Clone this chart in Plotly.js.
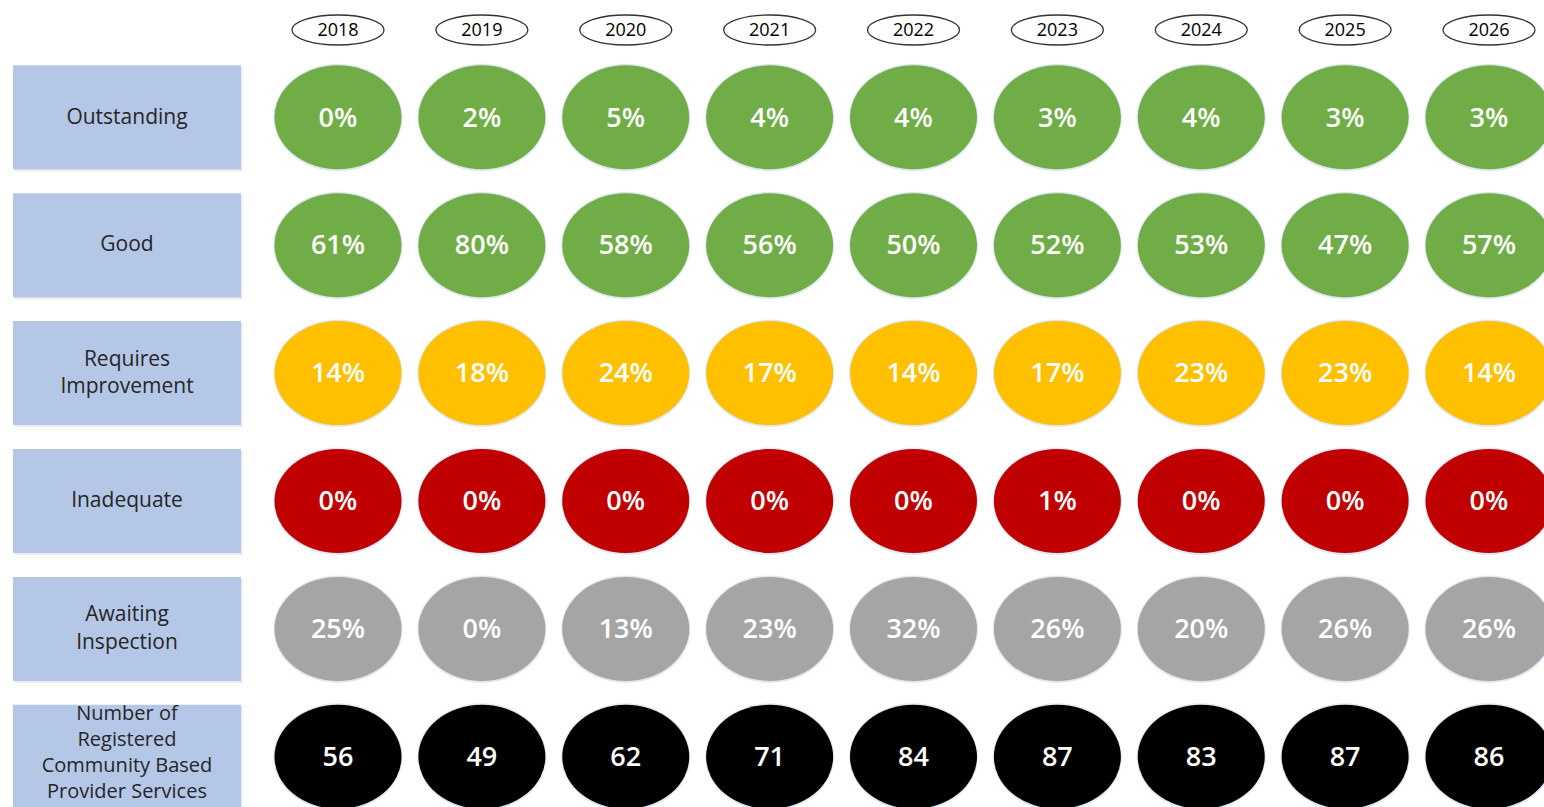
<!DOCTYPE html>
<html>
<head>
<meta charset="utf-8">
<script src="https://cdn.plot.ly/plotly-3.0.1.min.js"></script>
<style>
html,body{margin:0;padding:0;background:#fff;}
#chart{width:1544px;height:807px;}
</style>
</head>
<body>
<div id="chart"></div>
<script>
// ---- data ----
var years = ['2018','2019','2020','2021','2022','2023','2024','2025','2026'];
var categories = ['Outstanding','Good','Requires<br>Improvement','Inadequate','Awaiting<br>Inspection','Number of<br>Registered<br>Community Based<br>Provider Services'];
var outstanding = [0,2,5,4,4,3,4,3,3];
var good = [61,80,58,56,50,52,53,47,57];
var requiresImprovement = [14,18,24,17,14,17,23,23,14];
var inadequate = [0,0,0,0,0,1,0,0,0];
var awaitingInspection = [25,0,13,23,32,26,20,26,26];
var registeredServices = [56,49,62,71,84,87,83,87,86];

// ---- styles ----
var rowColors = ['#70AD47','#70AD47','#FFC000','#C00000','#A5A5A5','#000000'];
var rowValues = [outstanding, good, requiresImprovement, inadequate, awaitingInspection, registeredServices];
var rowSuffix = ['%','%','%','%','%',''];

var W = 1544, H = 807;
var colStep = 143.875, firstColPx = 338;
var rowStep = 127.9, firstRowPx = 117.3;
var xRange = [(0 - firstColPx)/colStep, (W - firstColPx)/colStep];
var yRange = [(H - firstRowPx)/rowStep, (0 - firstRowPx)/rowStep];
var rx = 63.5/colStep, ry = 52/rowStep;
var labelX0 = (13 - firstColPx)/colStep, labelX1 = (241 - firstColPx)/colStep;
var labelXc = (labelX0 + labelX1)/2;
var yearY = (30 - firstRowPx)/rowStep;
var yrx = 46/colStep, yry = 15/rowStep;
var textDy = 2.5/rowStep;

var shapes = [];
var traces = [];

// label boxes
categories.forEach(function(c, r){
  shapes.push({type:'rect', xref:'x', yref:'y', x0:labelX0+1.5/colStep, x1:labelX1+1.5/colStep, y0:r-ry+2/rowStep, y1:r+ry+2/rowStep,
    fillcolor:'rgba(120,140,170,0.18)', line:{width:0}, layer:'below'});
  shapes.push({type:'rect', xref:'x', yref:'y', x0:labelX0, x1:labelX1, y0:r-ry, y1:r+ry,
    fillcolor:'#B4C7E7', line:{width:0}, layer:'below'});
});

// year ovals
years.forEach(function(y, i){
  shapes.push({type:'circle', xref:'x', yref:'y', x0:i-yrx, x1:i+yrx, y0:yearY-yry, y1:yearY+yry,
    fillcolor:'#FFFFFF', line:{color:'#333333', width:1.3}, layer:'below'});
});

// value ellipses
rowValues.forEach(function(vals, r){
  vals.forEach(function(v, i){
    shapes.push({type:'circle', xref:'x', yref:'y', x0:i-rx-1/colStep, x1:i+rx+1/colStep, y0:r-ry-1.5/rowStep, y1:r+ry+2/rowStep,
      fillcolor:'rgba(170,190,220,0.35)', line:{width:0}, layer:'below'});
    shapes.push({type:'circle', xref:'x', yref:'y', x0:i-rx, x1:i+rx, y0:r-ry, y1:r+ry,
      fillcolor:rowColors[r], line:{width:0}, layer:'below'});
  });
});

// year texts
traces.push({type:'scatter', mode:'text', x:years.map(function(_,i){return i;}), y:years.map(function(){return yearY + 1.5/rowStep;}),
  text:years, textfont:{family:'Open Sans', size:18, color:'#000000'}, hoverinfo:'skip', showlegend:false});

// category texts
traces.push({type:'scatter', mode:'text', x:categories.map(function(){return labelXc;}),
  y:categories.map(function(_,r){return r === categories.length-1 ? r - 3/rowStep : r + 1/rowStep;}),
  text:categories, textfont:{family:'Open Sans', size:categories.map(function(_,r){return r === categories.length-1 ? 20 : 21;}), color:'#262626'},
  hoverinfo:'skip', showlegend:false});

// value texts
rowValues.forEach(function(vals, r){
  traces.push({type:'scatter', mode:'text', x:vals.map(function(_,i){return i;}), y:vals.map(function(){return r + textDy;}),
    text:vals.map(function(v){return v + rowSuffix[r];}),
    textfont:{family:'Open Sans', size:27, color:'#FFFFFF', weight:600}, hoverinfo:'skip', showlegend:false});
});

var layout = {
  width:W, height:H,
  margin:{l:0,r:0,t:0,b:0},
  paper_bgcolor:'#FFFFFF', plot_bgcolor:'#FFFFFF',
  xaxis:{range:xRange, visible:false, fixedrange:true},
  yaxis:{range:yRange, visible:false, fixedrange:true},
  shapes:shapes,
  showlegend:false
};
Plotly.newPlot('chart', traces, layout, {displayModeBar:false, staticPlot:true});
</script>
</body>
</html>
